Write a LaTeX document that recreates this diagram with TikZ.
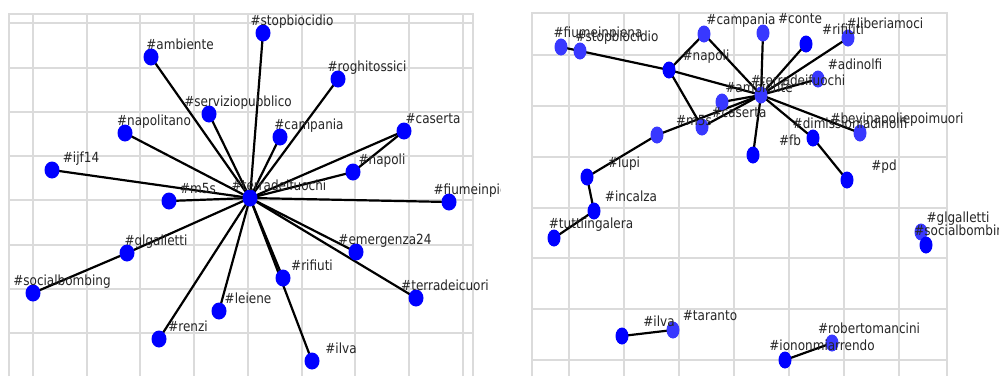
\documentclass[tikz,border=0pt]{standalone}
\usepackage{fontspec}
\setmainfont{DejaVu Sans}
\newfontfamily\lblfont[FakeStretch=0.86]{DejaVu Sans}
\usetikzlibrary{shapes.geometric}
\pgfdeclarelayer{bg}
\pgfdeclarelayer{edges}
\pgfdeclarelayer{front}
\pgfsetlayers{bg,edges,main,front}
\begin{document}
\begin{tikzpicture}[x=1pt,y=-1pt,
  gridline/.style={draw=gray!28,line width=1.1pt},
  lnode/.style={ellipse,fill=blue,draw=none,minimum width=15pt,minimum height=17pt,inner sep=0pt},
  rnode/.style={ellipse,fill=blue,draw=none,minimum width=13pt,minimum height=17pt,inner sep=0pt},
  light/.style={fill=blue!78!white},
  lbl/.style={anchor=base,inner sep=0pt,font=\lblfont\fontsize{14}{16}\selectfont,text=black!85},
  edge/.style={draw=black,line width=2.2pt}]
\useasboundingbox (0,0) rectangle (999,376);
\begin{pgfonlayer}{bg}
\fill[white] (0,0) rectangle (999,376);
% left grid
\foreach \x in {33,87,140,194,248,302,355,409,463} \draw[gridline] (\x,14) -- (\x,376);
\foreach \y in {23,68,112,156,200,245,289,333} \draw[gridline] (9,\y) -- (473,\y);
\draw[gridline] (9,376) -- (9,14) -- (473,14) -- (473,376);
% right grid
\foreach \x in {569,624,679,734,789,844,899} \draw[gridline] (\x,13) -- (\x,376);
\foreach \y in {55,106,157,208,258,309,360} \draw[gridline] (532,\y) -- (947,\y);
\draw[gridline] (532,376) -- (532,13) -- (947,13) -- (947,376);
\end{pgfonlayer}

% ---------------- left graph nodes
\node[lnode] (Lc) at (250,198) {};
\node[lnode] (Lstop) at (263,33) {};
\node[lnode] (Lamb) at (151,57) {};
\node[lnode] (Lrogh) at (338,79) {};
\node[lnode] (Lserv) at (209,114) {};
\node[lnode] (Lnapt) at (125,133) {};
\node[lnode] (Lcamp) at (280,137) {};
\node[lnode] (Lcas) at (404,131) {};
\node[lnode] (Lijf) at (52,170) {};
\node[lnode] (Lnap) at (353,172) {};
\node[lnode] (Lm5s) at (169,201) {};
\node[lnode] (Lfiu) at (449,202) {};
\node[lnode] (Lglg) at (127,253) {};
\node[lnode] (Lemer) at (356,252) {};
\node[lnode] (Lsoc) at (33,293) {};
\node[lnode] (Lrif) at (283,278) {};
\node[lnode] (Lterc) at (416,298) {};
\node[lnode] (Llei) at (219,311) {};
\node[lnode] (Lren) at (159,339) {};
\node[lnode] (Lilva) at (312,361) {};

% ---------------- right graph nodes
\node[rnode,light] (Rc) at (761,95) {};
\node[rnode,light] (Rfiu) at (561,47) {};
\node[rnode,light] (Rstop) at (580,51) {};
\node[rnode,light] (Rcamp) at (704,34) {};
\node[rnode,light] (Rconte) at (763,33) {};
\node[rnode] (Rrif) at (806,44) {};
\node[rnode,light] (Rlib) at (848,38) {};
\node[rnode] (Rnap) at (669,70) {};
\node[rnode,light] (Radin) at (818,79) {};
\node[rnode,light] (Ramb) at (722,102) {};
\node[rnode,light] (Rcas) at (702,127) {};
\node[rnode,light] (Rm5s) at (657,135) {};
\node[rnode] (Rdim) at (813,138) {};
\node[rnode,light] (Rbev) at (860,133) {};
\node[rnode] (Rfb) at (753,155) {};
\node[rnode] (Rpd) at (847,180) {};
\node[rnode] (Rlupi) at (587,177) {};
\node[rnode] (Rinc) at (594,211) {};
\node[rnode] (Rtutt) at (554,238) {};
\node[rnode,light] (Rglg) at (921,232) {};
\node[rnode] (Rsoc) at (926,245) {};
\node[rnode] (Rilva) at (622,336) {};
\node[rnode,light] (Rtar) at (673,330) {};
\node[rnode] (Riono) at (785,360) {};
\node[rnode,light] (Rrob) at (832,343) {};

% ---------------- edges
\begin{pgfonlayer}{edges}
\foreach \n in {Lstop,Lamb,Lrogh,Lserv,Lnapt,Lcamp,Lcas,Lijf,Lnap,Lm5s,Lfiu,Lglg,Lemer,Lrif,Lterc,Llei,Lren,Lilva}
  \draw[edge] (Lc.center) -- (\n.center);
\draw[edge] (Lglg.center) -- (Lsoc.center);
\draw[edge] (Lcas.center) -- (Lnap.center);
\foreach \n in {Rnap,Rcamp,Rconte,Rrif,Rlib,Radin,Ramb,Rcas,Rm5s,Rfb,Rdim,Rbev}
  \draw[edge] (Rc.center) -- (\n.center);
\draw[edge] (Rfiu.center) -- (Rstop.center);
\draw[edge] (Rstop.center) -- (Rnap.center);
\draw[edge] (Rnap.center) -- (Rcamp.center);
\draw[edge] (Rnap.center) -- (Rcas.center);
\draw[edge] (Rm5s.center) -- (Rlupi.center);
\draw[edge] (Rlupi.center) -- (Rinc.center);
\draw[edge] (Rinc.center) -- (Rtutt.center);
\draw[edge] (Rdim.center) -- (Rpd.center);
\draw[edge] (Rglg.center) -- (Rsoc.center);
\draw[edge] (Rilva.center) -- (Rtar.center);
\draw[edge] (Riono.center) -- (Rrob.center);
\end{pgfonlayer}

% ---------------- labels
\begin{pgfonlayer}{front}
\begin{scope}
\clip (0,0) rectangle (500,376);
\path (Lc) +(29,-8) node[lbl] (Lc-t) {\#terradeifuochi};
\path (Lstop) +(29,-8) node[lbl] (Lstop-t) {\#stopbiocidio};
\path (Lamb) +(29,-8) node[lbl] (Lamb-t) {\#ambiente};
\path (Lrogh) +(29,-8) node[lbl] (Lrogh-t) {\#roghitossici};
\path (Lserv) +(29,-8) node[lbl] (Lserv-t) {\#serviziopubblico};
\path (Lnapt) +(29,-8) node[lbl] (Lnapt-t) {\#napolitano};
\path (Lcamp) +(29,-8) node[lbl] (Lcamp-t) {\#campania};
\path (Lcas) +(29,-8) node[lbl] (Lcas-t) {\#caserta};
\path (Lijf) +(29,-8) node[lbl] (Lijf-t) {\#ijf14};
\path (Lnap) +(29,-8) node[lbl] (Lnap-t) {\#napoli};
\path (Lm5s) +(29,-8) node[lbl] (Lm5s-t) {\#m5s};
\path (Lfiu) +(29,-8) node[lbl] (Lfiu-t) {\#fiumeinpiena};
\path (Lglg) +(29,-8) node[lbl] (Lglg-t) {\#glgalletti};
\path (Lemer) +(29,-8) node[lbl] (Lemer-t) {\#emergenza24};
\path (Lsoc) +(29,-8) node[lbl] (Lsoc-t) {\#socialbombing};
\path (Lrif) +(29,-8) node[lbl] (Lrif-t) {\#rifiuti};
\path (Lterc) +(29,-8) node[lbl] (Lterc-t) {\#terradeicuori};
\path (Llei) +(29,-8) node[lbl] (Llei-t) {\#leiene};
\path (Lren) +(29,-8) node[lbl] (Lren-t) {\#renzi};
\path (Lilva) +(29,-8) node[lbl] (Lilva-t) {\#ilva};
\end{scope}
\begin{scope}
\clip (500,0) rectangle (999,376);
\path (Rc) +(37,-10) node[lbl] (Rc-t) {\#terradeifuochi};
\path (Rfiu) +(37,-10) node[lbl] (Rfiu-t) {\#fiumeinpiena};
\path (Rstop) +(37,-10) node[lbl] (Rstop-t) {\#stopbiocidio};
\path (Rcamp) +(37,-10) node[lbl] (Rcamp-t) {\#campania};
\path (Rconte) +(37,-10) node[lbl] (Rconte-t) {\#conte};
\path (Rrif) +(37,-10) node[lbl] (Rrif-t) {\#rifiuti};
\path (Rlib) +(37,-10) node[lbl] (Rlib-t) {\#liberiamoci};
\path (Rnap) +(37,-10) node[lbl] (Rnap-t) {\#napoli};
\path (Radin) +(37,-10) node[lbl] (Radin-t) {\#adinolfi};
\path (Ramb) +(37,-10) node[lbl] (Ramb-t) {\#ambiente};
\path (Rcas) +(37,-10) node[lbl] (Rcas-t) {\#caserta};
\path (Rm5s) +(37,-10) node[lbl] (Rm5s-t) {\#m5s};
\path (Rdim) +(37,-10) node[lbl] (Rdim-t) {\#dimissioniadinolfi};
\path (Rbev) +(37,-10) node[lbl] (Rbev-t) {\#bevinapoliepoimuori};
\path (Rfb) +(37,-10) node[lbl] (Rfb-t) {\#fb};
\path (Rpd) +(37,-10) node[lbl] (Rpd-t) {\#pd};
\path (Rlupi) +(37,-10) node[lbl] (Rlupi-t) {\#lupi};
\path (Rinc) +(37,-10) node[lbl] (Rinc-t) {\#incalza};
\path (Rtutt) +(37,-10) node[lbl] (Rtutt-t) {\#tuttiingalera};
\path (Rglg) +(37,-10) node[lbl] (Rglg-t) {\#glgalletti};
\path (Rsoc) +(37,-10) node[lbl] (Rsoc-t) {\#socialbombing};
\path (Rilva) +(37,-10) node[lbl] (Rilva-t) {\#ilva};
\path (Rtar) +(37,-10) node[lbl] (Rtar-t) {\#taranto};
\path (Riono) +(37,-10) node[lbl] (Riono-t) {\#iononmiarrendo};
\path (Rrob) +(37,-10) node[lbl] (Rrob-t) {\#robertomancini};
\end{scope}
\end{pgfonlayer}
\end{tikzpicture}
\end{document}
